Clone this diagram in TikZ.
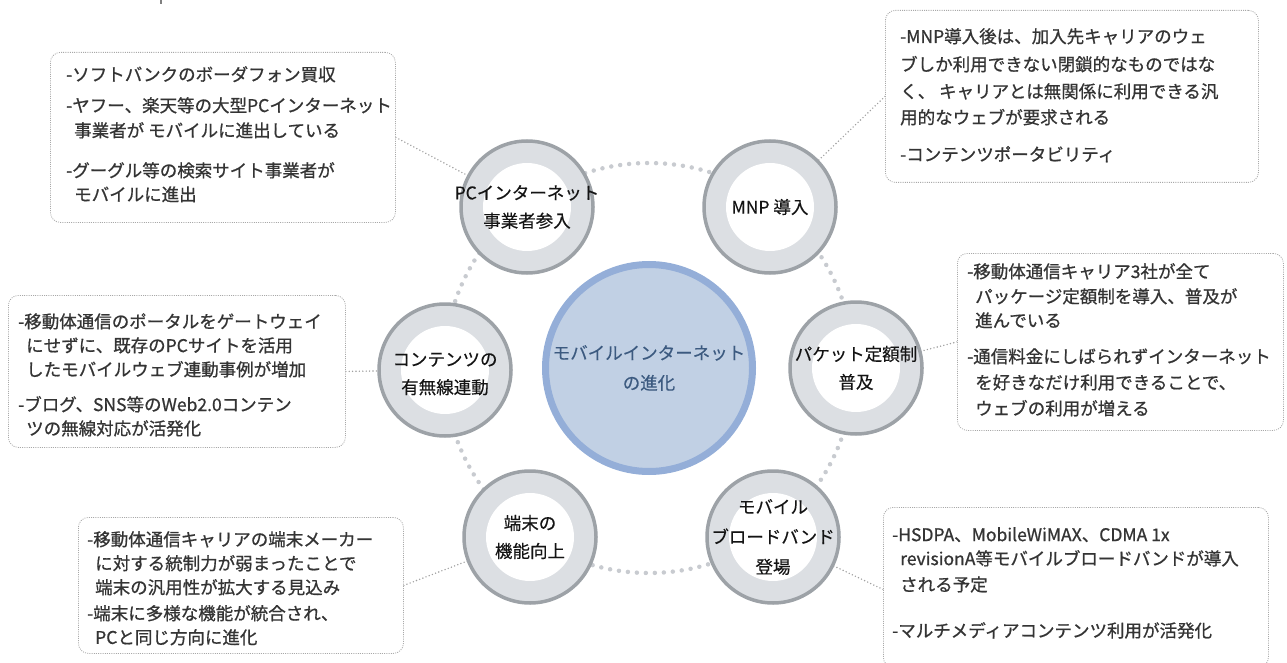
\documentclass[tikz,border=0pt]{standalone}
\usepackage{fontspec}
\setmainfont{Noto Sans CJK JP}
\newfontfamily\boxfont{Noto Sans CJK JP}[FakeBold=0.8]
\newfontfamily\ringfont{Noto Sans CJK JP}[FakeBold=0.3]
\usetikzlibrary{backgrounds}
\definecolor{ringfill}{HTML}{DCDFE3}
\definecolor{ringline}{HTML}{9DA2A7}
\definecolor{hubfill}{HTML}{C1D0E4}
\definecolor{hubline}{HTML}{94AED8}
\definecolor{hubtext}{HTML}{3C5A80}
\definecolor{boxline}{HTML}{A8A8A8}
\definecolor{boxtext}{HTML}{343434}
\definecolor{ringdot}{HTML}{C8CBD0}
\definecolor{linkdot}{HTML}{A0A0A0}
\begin{document}
\begin{tikzpicture}[x=1pt,y=-1pt,
  infobox/.style={draw=boxline, line width=0.8pt, dash pattern=on 1pt off 1.2pt,
    rounded corners=10pt, fill=white, inner sep=0pt, anchor=north west},
  infotext/.style={anchor=north west, inner sep=0pt, align=left, text=boxtext,
    font=\boxfont\fontsize{17.5}{24}\selectfont},
  ring/.style={circle, fill=ringfill, draw=ringline, line width=3.5pt,
    minimum size=132pt, inner sep=0pt,
    path picture={\fill[white] (path picture bounding box.center) circle (44pt);}},
  ringlabel/.style={inner sep=0pt, align=center, text=black!92,
    font=\ringfont\fontsize{17.5}{28}\selectfont},
  ringdots/.style={draw=ringdot, line width=4.5pt, line cap=round, dash pattern=on 0pt off 9pt},
  linkdots/.style={draw=linkdot, line width=1.6pt, line cap=round, dash pattern=on 0pt off 3.4pt}]
\useasboundingbox (0,0) rectangle (1287,663);
\fill[gray] (160,0) rectangle (162,4);

% boxes
\node[infobox, minimum width=345pt, minimum height=170pt] (b1) at (50,52) {};
\node[infobox, minimum width=373pt, minimum height=172pt] (b2) at (885,10) {};
\node[infobox, minimum width=337pt, minimum height=152pt] (b3) at (8,295) {};
\node[infobox, minimum width=326pt, minimum height=177pt] (b4) at (957,253) {};
\node[infobox, minimum width=325pt, minimum height=136pt] (b5) at (78,517) {};
\node[infobox, minimum width=385pt, minimum height=160pt] (b6) at (883,507) {};

\node[infotext] (t1) at (66,66) {-ソフトバンクのボーダフォン買収\\[7pt]
-ヤフー、楽天等の大型PCインターネット\\[1pt]
\hspace*{8pt}事業者が モバイルに進出している\\[16pt]
-グーグル等の検索サイト事業者が\\
\hspace*{8pt}モバイルに進出};
\node[infotext] (t2) at (900,28) {-MNP導入後は、加入先キャリアのウェ\\[4pt]
ブしか利用できない閉鎖的なものではな\\[3pt]
く、 キャリアとは無関係に利用できる汎\\[2pt]
用的なウェブが要求される\\[13pt]
-コンテンツポータビリティ};
\node[infotext] (t3) at (18,313) {-移動体通信のポータルをゲートウェイ\\
\hspace*{8pt}にせずに、既存のPCサイトを活用\\
\hspace*{8pt}したモバイルウェブ連動事例が増加\\[11pt]
-ブログ、SNS等のWeb2.0コンテン\\
\hspace*{8pt}ツの無線対応が活発化};
\node[infotext] (t4) at (967,263) {-移動体通信キャリア3社が全て\\[1pt]
\hspace*{8pt}パッケージ定額制を導入、普及が\\
\hspace*{8pt}進んでいる\\[12pt]
-通信料金にしばられずインターネット\\[2pt]
\hspace*{8pt}を好きなだけ利用できることで、\\[2pt]
\hspace*{8pt}ウェブの利用が増える};
\node[infotext] (t5) at (87,531) {-移動体通信キャリアの端末メーカー\\
\hspace*{8pt}に対する統制力が弱まったことで\\
\hspace*{8pt}端末の汎用性が拡大する見込み\\[2pt]
-端末に多様な機能が統合され、\\
\hspace*{8pt}PCと同じ方向に進化};
\node[infotext] (t6) at (892,527) {-HSDPA、MobileWiMAX、CDMA 1x\\
\hspace*{8pt}revisionA等モバイルブロードバンドが導入\\[2pt]
\hspace*{8pt}される予定\\[22pt]
-マルチメディアコンテンツ利用が活発化};

% circles
\node[circle, fill=hubfill, draw=hubline, line width=7pt, minimum size=207pt, inner sep=0pt] (hub) at (649,368) {};
\node[inner sep=0pt, align=center, text=hubtext, font=\ringfont\fontsize{17.5}{30}\selectfont] (hubl) at (hub.center) {モバイルインターネット\\の進化};

\node[ring] (pc) at (527,207) {};
\node[ring] (mnp) at (770,207) {};
\node[ring] (cont) at (445,370) {};
\node[ring] (pkt) at (856,368) {};
\node[ring] (term) at (530,537) {};
\node[ring] (mob) at (773,537) {};

\node[ringlabel] (pcl) at (pc.center) {PCインターネット\\事業者参入};
\node[ringlabel] (mnpl) at (mnp.center) {MNP 導入};
\node[ringlabel] (contl) at ([yshift=-4pt]cont.center) {コンテンツの\\有無線連動};
\node[ringlabel] (pktl) at (pkt.center) {パケット定額制\\普及};
\node[ringlabel] (terml) at (term.center) {端末の\\機能向上};
\node[ringlabel, font=\ringfont\fontsize{17.5}{30}\selectfont] (mobl) at (mob.center) {モバイル\\ブロードバンド\\登場};

\begin{scope}[on background layer]
\draw[ringdots] (hub.center) circle (205pt);
\draw[linkdots] (b1.east) -- (pc.center);
\draw[linkdots] (b2.west) -- (mnp.center);
\draw[linkdots] (b3.east) -- (cont.center);
\draw[linkdots] (b4.west) -- (pkt.center);
\draw[linkdots] (b5.east) -- (term.center);
\draw[linkdots] ([yshift=-2pt]b6.west) -- (mob.center);
\end{scope}
\end{tikzpicture}
\end{document}
